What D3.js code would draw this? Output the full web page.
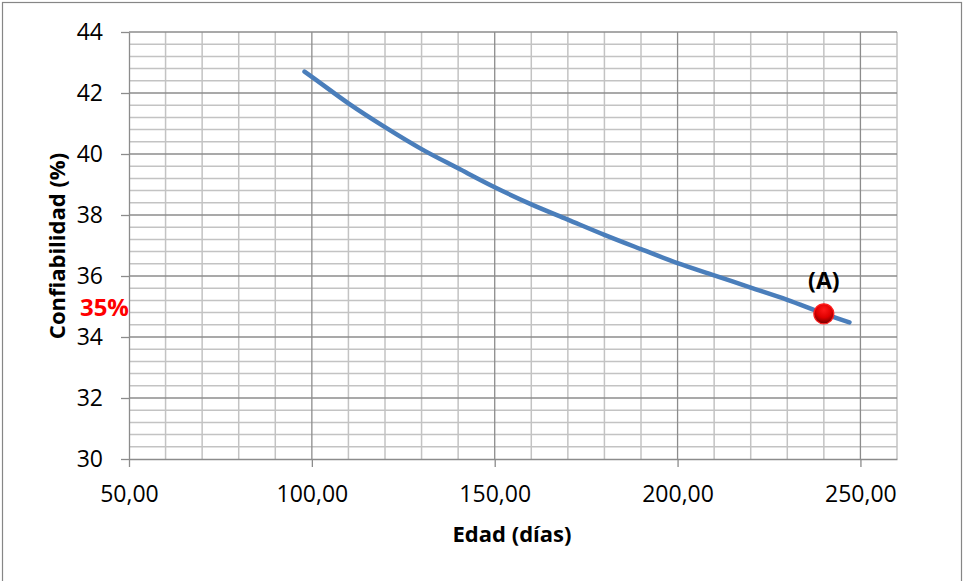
<!DOCTYPE html>
<html>
<head>
<meta charset="utf-8">
<script src="https://cdn.jsdelivr.net/npm/d3@7"></script>
<style>
  body { margin: 0; background: #fff; }
  text { font-family: "Open Sans", "Liberation Sans", sans-serif; }
</style>
</head>
<body>
<div class="chart-wrapper"></div>
<script>
// curve values
var edad = [98, 100, 110, 120, 130, 140, 150, 160, 170, 180, 190, 200, 210, 220, 230, 240, 247];
var confiabilidad = [42.70, 42.53, 41.66, 40.88, 40.16, 39.53, 38.91, 38.35, 37.85, 37.35, 36.88, 36.42, 36.02, 35.62, 35.22, 34.77, 34.48];
// marked point (A)
var puntoEdad = [240];
var puntoConf = [34.76];
var puntoLabel = ["(A)"];
// axis ticks
var xTicks = [50, 100, 150, 200, 250];
var yTicks = [30, 32, 34, 36, 38, 40, 42, 44];

var width = 963, height = 581;

var svg = d3.select(".chart-wrapper").append("svg")
  .attr("width", width)
  .attr("height", height);

// outer chart border
svg.append("rect")
  .attr("x", 2.5).attr("y", 2.5)
  .attr("width", 959).attr("height", 580)
  .attr("fill", "none")
  .attr("stroke", "#868686")
  .attr("stroke-width", 1.2);

var x = d3.scaleLinear().domain([50, 260]).range([129, 897]);
var y = d3.scaleLinear().domain([30, 44]).range([459, 32]);

var defs = svg.append("defs");
var grad = defs.append("radialGradient")
  .attr("id", "dotGrad")
  .attr("cx", "50%").attr("cy", "30%").attr("r", "70%");
grad.append("stop").attr("offset", "0%").attr("stop-color", "#ff1a1a");
grad.append("stop").attr("offset", "55%").attr("stop-color", "#e00000");
grad.append("stop").attr("offset", "100%").attr("stop-color", "#700000");

// minor grid
var grid = svg.append("g");
grid.selectAll(".vminor")
  .data(d3.range(50, 261, 10).filter(function(d) { return d % 50 !== 0; }))
  .enter().append("line")
  .attr("x1", function(d) { return x(d); })
  .attr("x2", function(d) { return x(d); })
  .attr("y1", y(30)).attr("y2", y(44))
  .attr("stroke", "#c3c3c3").attr("stroke-width", 1.5);

grid.selectAll(".hminor")
  .data(d3.range(0, 36).map(function(i) { return 30 + i * 0.4; }).filter(function(d, i) { return i % 5 !== 0; }))
  .enter().append("line")
  .attr("x1", x(50)).attr("x2", x(260))
  .attr("y1", function(d) { return y(d); })
  .attr("y2", function(d) { return y(d); })
  .attr("stroke", "#c3c3c3").attr("stroke-width", 1.5);

// major grid
grid.selectAll(".vmajor")
  .data(xTicks.slice(1))
  .enter().append("line")
  .attr("x1", function(d) { return x(d); })
  .attr("x2", function(d) { return x(d); })
  .attr("y1", y(30)).attr("y2", y(44))
  .attr("stroke", "#8c8c8c").attr("stroke-width", 1.3);

grid.selectAll(".hmajor")
  .data(yTicks.slice(1))
  .enter().append("line")
  .attr("x1", x(50)).attr("x2", x(260))
  .attr("y1", function(d) { return y(d); })
  .attr("y2", function(d) { return y(d); })
  .attr("stroke", "#8c8c8c").attr("stroke-width", 1.3);

// axes
var xAxis = d3.axisBottom(x).tickValues(xTicks).tickSizeInner(8).tickSizeOuter(0)
  .tickFormat(function(d) { return d3.format(".2f")(d).replace(".", ","); });
var gx = svg.append("g").attr("transform", "translate(0," + y(30) + ")").call(xAxis);
gx.select(".domain").attr("stroke", "#8c8c8c").attr("stroke-width", 1.3);
gx.selectAll(".tick line").attr("stroke", "#8c8c8c").attr("stroke-width", 1.3);
gx.selectAll(".tick text")
  .attr("y", 35).attr("dy", "0.35em")
  .style("font-size", "23px").attr("fill", "#000");

var yAxis = d3.axisLeft(y).tickValues(yTicks).tickSizeInner(8).tickSizeOuter(0);
var gy = svg.append("g").attr("transform", "translate(" + x(50) + ",0)").call(yAxis);
gy.select(".domain").attr("stroke", "#8c8c8c").attr("stroke-width", 1.3);
gy.selectAll(".tick line").attr("stroke", "#8c8c8c").attr("stroke-width", 1.3);
gy.selectAll(".tick text")
  .attr("x", -26)
  .style("font-size", "23px").attr("fill", "#000");

// curve
var line = d3.line()
  .x(function(d, i) { return x(edad[i]); })
  .y(function(d) { return y(d); })
  .curve(d3.curveMonotoneX);

svg.append("path")
  .datum(confiabilidad)
  .attr("d", line)
  .attr("fill", "none")
  .attr("stroke", "#4a7ebb")
  .attr("stroke-width", 4.5)
  .attr("stroke-linecap", "round");

// point (A)
svg.selectAll(".dot")
  .data(puntoEdad)
  .enter().append("circle")
  .attr("cx", function(d) { return x(d); })
  .attr("cy", function(d, i) { return y(puntoConf[i]); })
  .attr("r", 10)
  .attr("fill", "url(#dotGrad)")
  .attr("stroke", "#ff2020")
  .attr("stroke-width", 1.2);

svg.selectAll(".dotLabel")
  .data(puntoLabel)
  .enter().append("text")
  .attr("x", function(d, i) { return x(puntoEdad[i]); })
  .attr("y", function(d, i) { return y(puntoConf[i]) - 25; })
  .attr("text-anchor", "middle")
  .style("font-size", "23px").style("font-weight", "bold")
  .text(function(d) { return d; });

// 35% marker label on the y axis
svg.append("text")
  .attr("x", x(50))
  .attr("y", y(puntoConf[0]) + 2)
  .attr("text-anchor", "end")
  .attr("fill", "#ff0000")
  .style("font-size", "24px").style("font-weight", "bold")
  .text("35%");

// axis titles
svg.append("text")
  .attr("x", 512).attr("y", 542)
  .attr("text-anchor", "middle")
  .style("font-size", "22px").style("font-weight", "bold")
  .text("Edad (días)");

svg.append("text")
  .attr("transform", "translate(65,246) rotate(-90)")
  .attr("text-anchor", "middle")
  .style("font-size", "22px").style("font-weight", "bold")
  .text("Confiabilidad (%)");
</script>
</body>
</html>
